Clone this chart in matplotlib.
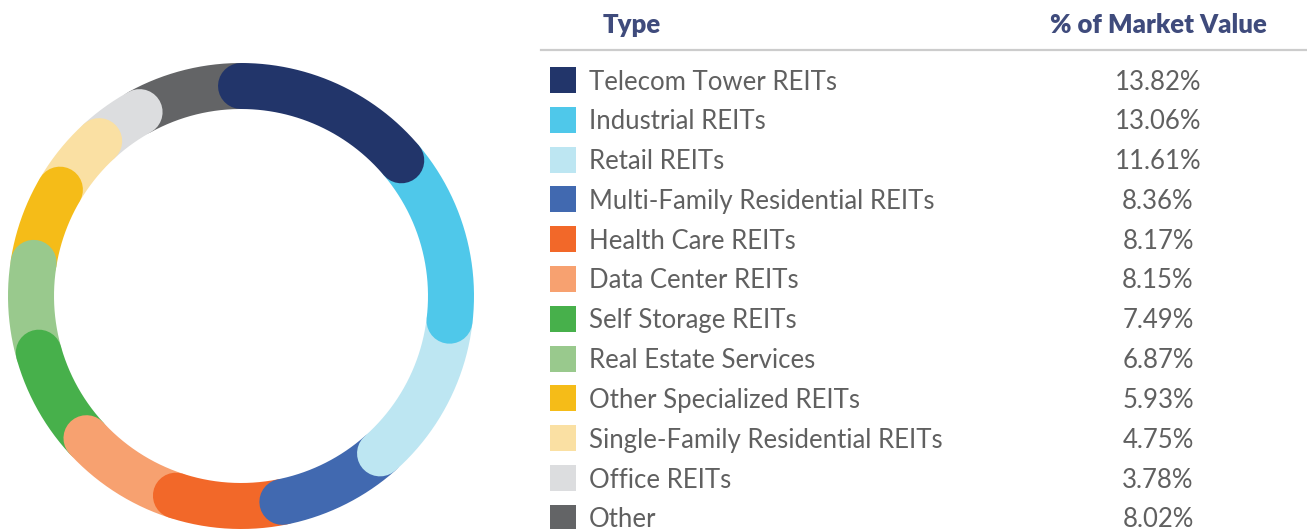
import matplotlib
matplotlib.use("Agg")
import matplotlib.pyplot as plt
from matplotlib.patches import Rectangle
import numpy as np

plt.rcParams['font.family'] = ['Lato', 'DejaVu Sans']

types = ["Telecom Tower REITs", "Industrial REITs", "Retail REITs",
         "Multi-Family Residential REITs", "Health Care REITs", "Data Center REITs",
         "Self Storage REITs", "Real Estate Services", "Other Specialized REITs",
         "Single-Family Residential REITs", "Office REITs", "Other"]
values = [13.82, 13.06, 11.61, 8.36, 8.17, 8.15, 7.49, 6.87, 5.93, 4.75, 3.78, 8.02]
labels = ["13.82%", "13.06%", "11.61%", "8.36%", "8.17%", "8.15%",
          "7.49%", "6.87%", "5.93%", "4.75%", "3.78%", "8.02%"]
colors = ["#22356a", "#4fc8ea", "#bde6f2", "#4169b0", "#f26829", "#f7a170",
          "#47b04b", "#99c98d", "#f5bc18", "#fae0a3", "#dcdddf", "#636466"]

W, H = 1307, 529
fig = plt.figure(figsize=(W / 100, H / 100), dpi=100)
ax = fig.add_axes([0, 0, 1, 1])
ax.set_xlim(0, W)
ax.set_ylim(H, 0)
ax.axis('off')

# donut with rounded ends, clockwise from 12 o'clock
cx, cy, r, ring = 241, 296, 210, 46
frac = np.array(values) / sum(values)
edges = np.concatenate([[0], np.cumsum(frac)]) * 2 * np.pi
for k in range(len(values) - 1, -1, -1):
    t = np.linspace(edges[k], edges[k + 1], 200)
    ax.plot(cx + r * np.sin(t), cy - r * np.cos(t), color=colors[k],
            lw=ring * 0.72, solid_capstyle='round', zorder=len(values) - k)

# table
head_col = "#3f4b7c"
txt_col = "#606060"
ax.text(603, 25, "Type", ha='left', va='center', fontsize=18.5, fontweight='heavy', color=head_col)
ax.text(1158, 25, "% of Market Value", ha='center', va='center', fontsize=18.5,
        fontweight='heavy', color=head_col)
ax.plot([541, W], [50, 50], color="#cccccc", lw=1.6)

y0, dy = 80, 39.8
for k, (name, lab, c) in enumerate(zip(types, labels, colors)):
    y = y0 + k * dy
    ax.add_patch(Rectangle((550, y - 13), 26, 26, color=c, lw=0))
    ax.text(589, y + 2, name, ha='left', va='center', fontsize=18.5, color=txt_col)
    ax.text(1158, y + 2, lab, ha='center', va='center', fontsize=18.5, color=txt_col)

fig.savefig("out.png", dpi=100)
